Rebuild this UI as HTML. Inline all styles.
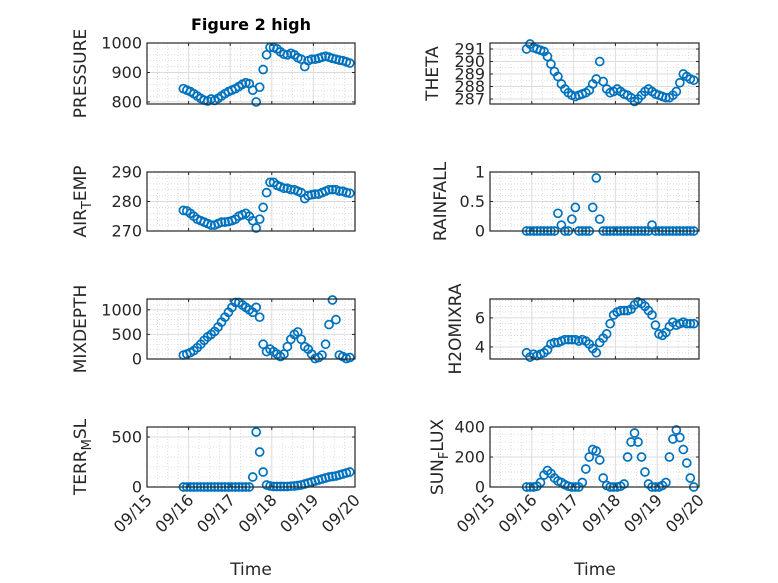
<!DOCTYPE html>
<html><head><meta charset="utf-8"><style>
html,body{margin:0;padding:0;background:#fff}
svg{display:block;font-family:"DejaVu Sans","Liberation Sans",sans-serif}
</style></head><body>
<svg id="fig" width="778" height="583" viewBox="0 0 778 583" xmlns="http://www.w3.org/2000/svg">
<rect width="778" height="583" fill="#fff"/>
<text x="251" y="30" text-anchor="middle" font-size="16" font-weight="bold" fill="#000">Figure 2 high</text>
<text x="251" y="575" text-anchor="middle" font-size="17" fill="#262626">Time</text>
<text x="595" y="575" text-anchor="middle" font-size="17" fill="#262626">Time</text>
</svg>
<script>
const timeDays = [0.875,0.958,1.042,1.125,1.208,1.292,1.375,1.458,1.542,1.625,1.708,1.792,1.875,1.958,2.042,2.125,2.208,2.292,2.375,2.458,2.542,2.625,2.708,2.792,2.875,2.958,3.042,3.125,3.208,3.292,3.375,3.458,3.542,3.625,3.708,3.792,3.875,3.958,4.042,4.125,4.208,4.292,4.375,4.458,4.542,4.625,4.708,4.792,4.875];
const xTickLabels = ["09/15","09/16","09/17","09/18","09/19","09/20"];
const pressure = [845,840,835,828,820,812,806,803,810,805,812,820,828,835,840,845,852,860,865,862,840,800,850,910,960,985,985,980,970,962,960,965,960,950,945,920,940,945,945,948,952,955,952,948,945,942,940,936,932];
const airTemp = [277,276.8,276,275,274,273.5,273,272.5,272,272,272.5,273,273,273.2,273.5,274,275,275.5,276,275,273.5,271,274,278,283,286.5,286.5,285.5,285,284.5,284.5,284,284,283.5,283,281,282,282.3,282.5,282.5,283,283.5,284,284,284,283.5,283.5,283,282.8];
const mixDepth = [80,100,130,170,230,300,380,450,500,560,650,750,850,950,1050,1150,1150,1100,1050,1000,950,1050,850,300,150,200,150,100,50,100,250,400,500,550,400,250,200,100,10,30,80,300,700,1200,800,80,50,10,30];
const terrMsl = [0,0,0,0,0,0,0,0,0,0,0,0,0,0,0,0,0,0,0,0,100,550,350,150,20,10,5,5,5,5,5,8,10,15,20,30,40,50,60,70,80,90,100,105,110,120,130,140,150];
const theta = [291,291.4,291.1,291,290.9,290.8,290.4,289.8,289.2,288.8,288.2,287.8,287.5,287.3,287.2,287.3,287.4,287.5,287.7,288.2,288.6,290,288.4,287.8,287.5,287.6,287.8,287.6,287.4,287.3,287.1,286.8,287.0,287.3,287.6,287.8,287.6,287.4,287.3,287.2,287.1,287.1,287.3,287.6,288.3,289.0,288.8,288.6,288.5];
const rainfall = [0,0,0,0,0,0,0,0,0,0.3,0.1,0,0,0.2,0.4,0,0,0,0,0.4,0.9,0.2,0,0,0,0,0,0,0,0,0,0,0,0,0,0,0.1,0,0,0,0,0,0,0,0,0,0,0,0];
const h2oMix = [3.6,3.3,3.5,3.4,3.5,3.6,3.8,4.2,4.3,4.3,4.4,4.5,4.5,4.5,4.5,4.4,4.5,4.4,4.2,3.9,3.6,4.3,4.6,4.9,5.6,6.2,6.4,6.5,6.5,6.5,6.6,6.9,7.1,7.0,6.8,6.5,6.2,5.5,4.9,4.8,5.0,5.4,5.7,5.5,5.6,5.7,5.6,5.6,5.6];
const sunFlux = [0,0,0,5,30,80,110,90,60,40,30,15,5,0,0,0,30,120,200,250,240,180,60,10,0,0,0,5,20,200,300,360,300,200,100,20,0,0,0,10,30,200,320,380,330,250,160,60,0];
const pressureTicks = [800,900,1000];
const airTempTicks = [270,280,290];
const mixTicks = [0,500,1000];
const terrTicks = [0,500];
const thetaTicks = [287,288,289,290,291];
const rainTicks = [0,0.5,1];
const h2oTicks = [4,6];
const sunTicks = [0,200,400];

const NS="http://www.w3.org/2000/svg";
const svg=document.getElementById('fig');
function mk(tag,attrs,parent){const e=document.createElementNS(NS,tag);for(const k in attrs)e.setAttribute(k,attrs[k]);(parent||svg).appendChild(e);return e;}

const panels=[
 {name:'pressure',x0:147,x1:355,y0:43,y1:104,ylim:[793,1000],ticks:pressureTicks,minor:20,data:pressure,lab:[['PRESSURE']],lx:80,bottom:false},
 {name:'air-temp',x0:147,x1:355,y0:172,y1:231,ylim:[270,290],ticks:airTempTicks,minor:2,data:airTemp,lab:[['AIR'],['T','sub'],['EMP']],lx:80,bottom:false},
 {name:'mixdepth',x0:147,x1:355,y0:299,y1:359,ylim:[0,1220],ticks:mixTicks,minor:100,data:mixDepth,lab:[['MIXDEPTH']],lx:80,bottom:false},
 {name:'terr-msl',x0:147,x1:355,y0:427,y1:487,ylim:[0,600],ticks:terrTicks,minor:100,data:terrMsl,lab:[['TERR'],['M','sub'],['SL']],lx:80,bottom:true},
 {name:'theta',x0:490,x1:699,y0:43,y1:104,ylim:[286.6,291.48],ticks:thetaTicks,minor:0.5,data:theta,lab:[['THETA']],lx:432,bottom:false},
 {name:'rainfall',x0:490,x1:699,y0:172,y1:231,ylim:[0,1],ticks:rainTicks,minor:0.1,data:rainfall,lab:[['RAINFALL']],lx:440,bottom:false},
 {name:'h2omixra',x0:490,x1:699,y0:299,y1:359,ylim:[3.17,7.3],ticks:h2oTicks,minor:0.4,data:h2oMix,lab:[['H2OMIXRA']],lx:455,bottom:false},
 {name:'sun-flux',x0:490,x1:699,y0:427,y1:487,ylim:[0,400],ticks:sunTicks,minor:50,data:sunFlux,lab:[['SUN'],['F','sub'],['LUX']],lx:437,bottom:true}
];

panels.forEach(p=>{
 const g=mk('g',{});
 
 
 const xs=t=>p.x0+(t/5)*(p.x1-p.x0);
 const ys=v=>p.y1-(v-p.ylim[0])/(p.ylim[1]-p.ylim[0])*(p.y1-p.y0);
 for(let t=0.25;t<5;t+=0.25){ if(Math.abs(t-Math.round(t))<1e-6) continue;
   mk('line',{x1:xs(t),x2:xs(t),y1:p.y0,y2:p.y1,stroke:'#c8c8c8','stroke-width':0.6,'stroke-dasharray':'1,2'},g);}
 const mstart=Math.ceil(p.ylim[0]/p.minor)*p.minor;
 for(let v=mstart;v<p.ylim[1];v+=p.minor){ if(p.ticks.some(tk=>Math.abs(tk-v)<1e-6)) continue;
   mk('line',{x1:p.x0,x2:p.x1,y1:ys(v),y2:ys(v),stroke:'#c8c8c8','stroke-width':0.6,'stroke-dasharray':'1,2'},g);}
 for(let d=1;d<5;d++) mk('line',{x1:xs(d),x2:xs(d),y1:p.y0,y2:p.y1,stroke:'#dcdcdc','stroke-width':1},g);
 p.ticks.forEach(v=>mk('line',{x1:p.x0,x2:p.x1,y1:ys(v),y2:ys(v),stroke:'#dcdcdc','stroke-width':1},g));
 const s=mk('g',{},g);
 
 
 p.data.forEach((v,i)=>{
   const c=mk('circle',{cx:xs(timeDays[i]).toFixed(2),cy:ys(v).toFixed(2),r:4,fill:'none',stroke:'#0072BD','stroke-width':1.7},s);
   
   
 });
 mk('rect',{x:p.x0,y:p.y0,width:p.x1-p.x0,height:p.y1-p.y0,fill:'none',stroke:'#262626','stroke-width':1.2},g);
 for(let d=0;d<=5;d++){const x=xs(d);
   mk('line',{x1:x,x2:x,y1:p.y1,y2:p.y1-3,stroke:'#262626'},g);
   mk('line',{x1:x,x2:x,y1:p.y0,y2:p.y0+3,stroke:'#262626'},g);
   if(p.bottom){const tl=mk('text',{x:x+6,y:p.y1+14,'text-anchor':'end','font-size':16,fill:'#262626',transform:`rotate(-45 ${x+6} ${p.y1+14})`},g);
     
     
     tl.textContent=xTickLabels[d];}
 }
 p.ticks.forEach(v=>{const y=ys(v);
   mk('line',{x1:p.x0,x2:p.x0+3,y1:y,y2:y,stroke:'#262626'},g);
   mk('line',{x1:p.x1,x2:p.x1-3,y1:y,y2:y,stroke:'#262626'},g);
   const t=mk('text',{x:p.x0-5,y:y+5.5,'text-anchor':'end','font-size':16,fill:'#262626'},g);
   
   
   t.textContent=String(v);
 });
 const cy=(p.y0+p.y1)/2;
 const yl=mk('text',{x:p.lx,y:cy,'text-anchor':'middle','font-size':17,fill:'#262626',transform:`rotate(-90 ${p.lx} ${cy})`,dy:6},g);
 
 
 p.lab.forEach(part=>{const ts=mk('tspan',{},yl);
   if(part[1]==='sub'){ts.setAttribute('dy','5');ts.setAttribute('font-size','13');}
   else if(yl.childNodes.length>1){ts.setAttribute('dy','-5');}
   ts.textContent=part[0];});
});
</script>
</body></html>
